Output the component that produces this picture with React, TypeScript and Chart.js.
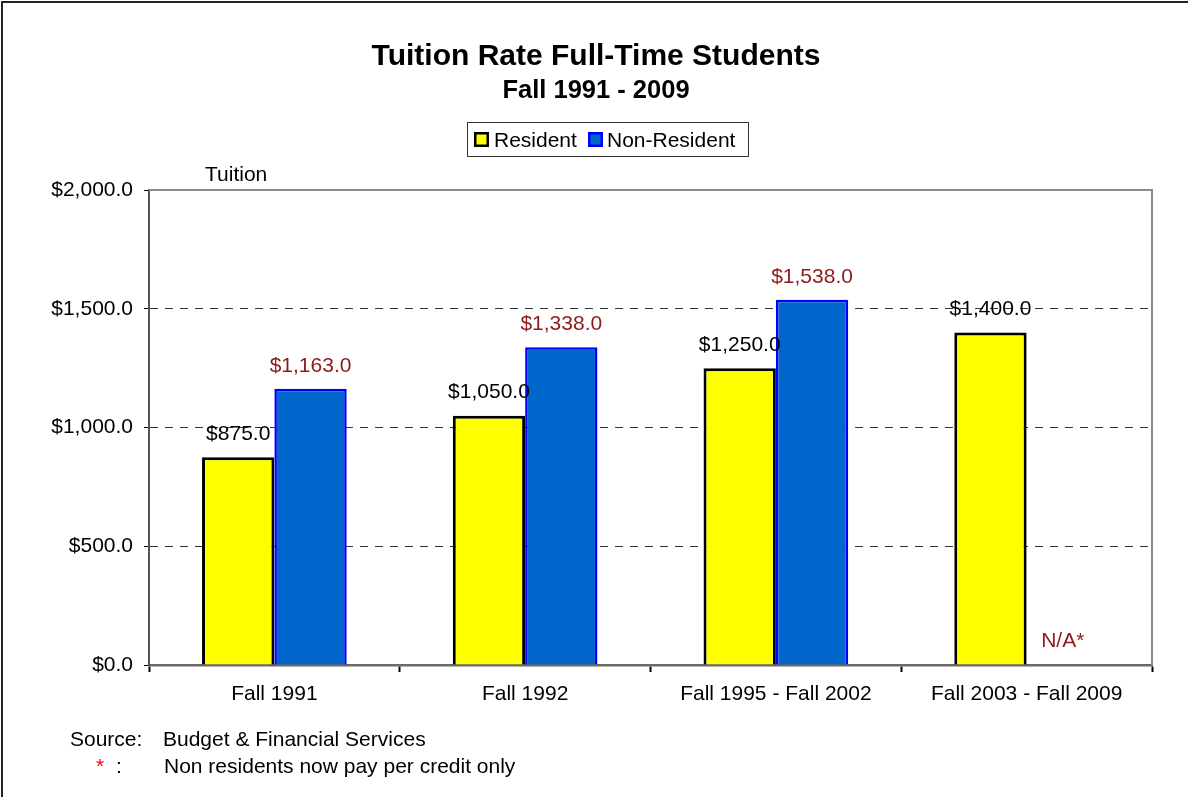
import React, { useEffect, useRef } from "react";
import { Chart, registerables } from "chart.js";

Chart.register(...registerables);

const categories = ["Fall 1991", "Fall 1992", "Fall 1995 - Fall 2002", "Fall 2003 - Fall 2009"];
const residentValues: (number | null)[] = [875, 1050, 1250, 1400];
const nonResidentValues: (number | null)[] = [1163, 1338, 1538, null];
const seriesNames = ["Resident", "Non-Resident"];
const titleText = "Tuition Rate Full-Time Students";
const subtitleText = "Fall 1991 - 2009";
const axisLabel = "Tuition";
const missingLabel = "N/A*";
const sourceLabel = "Source:";
const sourceText = "Budget & Financial Services";
const noteMark = "*";
const noteColon = ":";
const noteText = "Non residents now pay per credit only";

const FONT = "'Liberation Sans', Arial, Helvetica, sans-serif";

const fmt = (v: number) =>
  "$" + v.toLocaleString("en-US", { minimumFractionDigits: 1, maximumFractionDigits: 1 });

const decorPlugin = {
  id: "decor",
  afterDatasetsDraw(chart: any) {
    const ctx = chart.ctx as CanvasRenderingContext2D;
    const area = chart.chartArea;
    ctx.save();
    ctx.strokeStyle = "#8c8c8c";
    ctx.lineWidth = 2;
    ctx.beginPath();
    ctx.moveTo(area.left, area.top);
    ctx.lineTo(area.right, area.top);
    ctx.lineTo(area.right, area.bottom);
    ctx.stroke();

    ctx.font = `21px ${FONT}`;
    ctx.textAlign = "center";
    ctx.textBaseline = "middle";
    const colors = ["#000000", "#8e1b1b"];
    [0, 1].forEach((di) => {
      const meta = chart.getDatasetMeta(di);
      const data = chart.data.datasets[di].data;
      meta.data.forEach((el: any, j: number) => {
        const v = data[j];
        ctx.fillStyle = colors[di];
        if (v === null || v === undefined) {
          const ref = chart.getDatasetMeta(0).data[j];
          const x = ref.x + ref.width;
          ctx.fillText(missingLabel, x, area.bottom - 24);
        } else {
          ctx.fillText(fmt(v), el.x, el.y - 23);
        }
      });
    });
    ctx.restore();
  },
  afterDraw(chart: any) {
    const ctx = chart.ctx as CanvasRenderingContext2D;
    ctx.save();
    ctx.strokeStyle = "#222";
    ctx.lineWidth = 2;
    ctx.beginPath();
    ctx.moveTo(2, 800);
    ctx.lineTo(2, 2);
    ctx.lineTo(1190, 2);
    ctx.stroke();

    ctx.fillStyle = "#000";
    ctx.textBaseline = "alphabetic";
    ctx.textAlign = "center";
    ctx.font = `bold 30px ${FONT}`;
    ctx.fillText(titleText, 596, 65);
    ctx.font = `bold 25.5px ${FONT}`;
    ctx.fillText(subtitleText, 596, 98);

    ctx.lineWidth = 1;
    ctx.strokeStyle = "#333";
    ctx.strokeRect(467.5, 122.5, 281, 34);
    const ds = chart.data.datasets;
    const items = [
      { sx: 474, tx: 494 },
      { sx: 588, tx: 607 },
    ];
    ctx.font = `21px ${FONT}`;
    ctx.textAlign = "left";
    items.forEach((it, i) => {
      ctx.fillStyle = ds[i].borderColor;
      ctx.fillRect(it.sx, 132, 15, 15);
      ctx.fillStyle = ds[i].backgroundColor;
      ctx.fillRect(it.sx + 2.5, 134.5, 10, 10);
      ctx.fillStyle = "#000";
      ctx.fillText(ds[i].label, it.tx, 147);
    });

    ctx.fillText(axisLabel, 205, 181);

    ctx.fillText(sourceLabel, 70, 746);
    ctx.fillText(sourceText, 163, 746);
    ctx.fillStyle = "#ff0000";
    ctx.fillText(noteMark, 96, 773);
    ctx.fillStyle = "#000";
    ctx.fillText(noteColon, 116, 773);
    ctx.fillText(noteText, 164, 773);
    ctx.restore();
  },
};

export default function App() {
  const ref = useRef<HTMLCanvasElement>(null);
  useEffect(() => {
    document.body.style.margin = "0";
    const chart = new Chart(ref.current!, {
      type: "bar",
      data: {
        labels: categories,
        datasets: [
          {
            label: seriesNames[0],
            data: residentValues,
            backgroundColor: "#ffff00",
            borderColor: "#000000",
            borderWidth: 3,
            borderSkipped: "bottom",
            categoryPercentage: 0.577,
            barPercentage: 1,
          },
          {
            label: seriesNames[1],
            data: nonResidentValues,
            backgroundColor: "#0066cc",
            borderColor: "#0000ff",
            borderWidth: 2.5,
            borderSkipped: "bottom",
            categoryPercentage: 0.577,
            barPercentage: 1,
          },
        ],
      },
      options: {
        responsive: false,
        animation: false,
        layout: { padding: { top: 190, right: 36, bottom: 82, left: 0 } },
        plugins: {
          legend: { display: false },
          title: { display: false },
          tooltip: { enabled: false },
        },
        scales: {
          x: {
            afterFit: (s: any) => {
              s.height = 50;
            },
            grid: {
              display: true,
              drawOnChartArea: false,
              drawTicks: true,
              tickLength: 7,
              tickColor: "#000",
              tickWidth: 2,
              color: "#000",
            },
            border: { display: true, color: "#6a6a6a", width: 2.5 },
            ticks: {
              color: "#000",
              font: { family: FONT, size: 21 },
              padding: 10,
              maxRotation: 0,
              autoSkip: false,
            },
          },
          y: {
            min: 0,
            max: 2000,
            afterFit: (s: any) => {
              s.width = 149;
            },
            grid: {
              display: true,
              drawOnChartArea: true,
              drawTicks: true,
              tickLength: 5,
              tickColor: "#000",
              tickWidth: 1,
              tickBorderDash: [],
              color: (c: any) =>
                c.tick && (c.tick.value === 0 || c.tick.value === 2000) ? "rgba(0,0,0,0)" : "#333",
              lineWidth: 1,
            },
            border: { display: true, color: "#555", width: 2, dash: [8, 7] },
            ticks: {
              stepSize: 500,
              color: "#000",
              font: { family: FONT, size: 21 },
              padding: 11,
              callback: (v: any) => fmt(Number(v)),
            },
          },
        },
      },
      plugins: [decorPlugin],
    } as any);
    return () => chart.destroy();
  }, []);
  return <canvas ref={ref} width={1188} height={797} style={{ display: "block" }} />;
}
